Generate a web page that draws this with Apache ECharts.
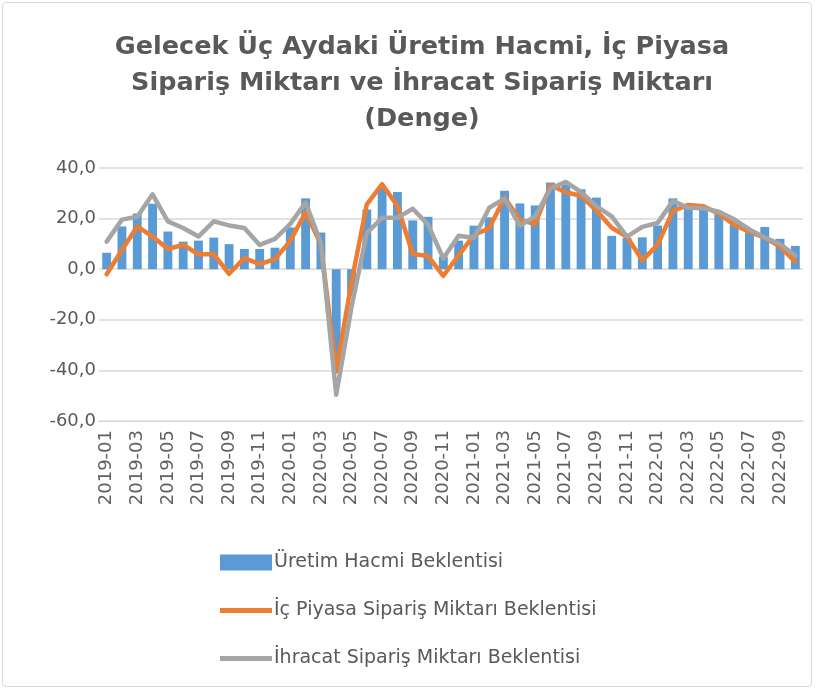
<!DOCTYPE html>
<html lang="tr">
<head>
    <meta charset="utf-8">
    <title>Gelecek Üç Aydaki Beklentiler</title>
    <script src="https://cdn.jsdelivr.net/npm/echarts@6/dist/echarts.min.js"></script>
    <style>
        html, body { margin: 0; padding: 0; background: #fff; }
        #frame {
            position: absolute; left: 2px; top: 2px; width: 810px; height: 685px;
            border: 1px solid #d9d9d9; border-radius: 4px; box-sizing: border-box;
        }
        #main { position: absolute; left: 0; top: 0; width: 816px; height: 691px; }
    </style>
</head>
<body>
<div id="frame"></div>
<div id="main"></div>
<script type="text/javascript">
    // aylar: 2019-01 .. 2022-10
    var months = [];
    for (var y = 2019; y <= 2022; y++) {
        for (var m = 1; m <= 12; m++) {
            if (y === 2022 && m > 10) break;
            months.push(y + '-' + (m < 10 ? '0' + m : m));
        }
    }

    var uretimHacmi = [6.5, 16.9, 22.0, 25.9, 14.9, 10.9, 11.3, 12.5, 9.9, 8.0, 8.0, 8.5,
        16.5, 28.0, 14.5, -38.0, -10.5, 23.6, 32.3, 30.5, 19.3, 20.7, 5.0, 11.3,
        17.2, 20.5, 31.0, 26.0, 25.2, 34.3, 33.5, 31.6, 28.3, 13.2, 12.4, 12.6,
        17.3, 28.0, 25.0, 24.0, 23.0, 17.5, 14.4, 16.7, 12.0, 9.2];

    var icPiyasa = [-2.0, 7.6, 16.9, 12.9, 8.0, 9.6, 5.9, 5.9, -1.8, 4.4, 2.0, 4.0,
        11.2, 22.5, 9.8, -40.4, -5.0, 25.6, 33.6, 25.0, 6.0, 5.2, -2.6, 5.5,
        13.5, 16.2, 28.3, 19.5, 17.8, 33.2, 30.4, 29.0, 23.2, 16.4, 12.8, 3.5,
        9.6, 23.0, 25.4, 24.9, 21.9, 17.6, 14.7, 12.5, 8.9, 2.9];

    var ihracat = [10.9, 19.6, 20.7, 29.6, 18.9, 16.3, 12.9, 18.9, 17.3, 16.3, 9.6, 12.0,
        17.9, 26.3, 10.3, -49.6, -15.0, 14.3, 20.3, 20.3, 23.9, 17.6, 4.3, 13.2,
        12.3, 24.3, 27.9, 17.2, 20.9, 31.9, 34.5, 30.5, 24.9, 20.9, 12.9, 16.7,
        18.3, 26.9, 24.3, 24.1, 22.7, 19.7, 15.7, 12.5, 9.9, 5.4];

    var seriesNames = ['Üretim Hacmi Beklentisi', 'İç Piyasa Sipariş Miktarı Beklentisi',
        'İhracat Sipariş Miktarı Beklentisi'];

    var textColor = '#595959';
    var fontFam = '"DejaVu Sans", sans-serif';

    var myChart = echarts.init(document.getElementById('main'));

    var option = {
        animation: false,
        textStyle: { fontFamily: fontFam },
        title: {
            text: 'Gelecek Üç Aydaki Üretim Hacmi, İç Piyasa\nSipariş Miktarı ve İhracat Sipariş Miktarı\n(Denge)',
            left: 417,
            textAlign: 'center',
            top: 24,
            textStyle: {
                fontFamily: fontFam,
                fontSize: 25.5,
                fontWeight: 'bold',
                color: textColor,
                lineHeight: 36
            }
        },
        legend: {
            orient: 'vertical',
            left: 215,
            top: 548,
            itemWidth: 52,
            itemHeight: 16,
            itemGap: 29,
            textStyle: { fontSize: 19, color: textColor, fontFamily: fontFam, padding: [0, 0, 0, -3] },
            data: [
                { name: seriesNames[0], icon: 'rect' },
                { name: seriesNames[1], icon: 'path://M0,6 H52 V11 H0 Z' },
                { name: seriesNames[2], icon: 'path://M0,6 H52 V11 H0 Z' }
            ]
        },
        grid: {
            left: 99,
            right: 13,
            top: 168,
            bottom: 270
        },
        xAxis: {
            type: 'category',
            data: months,
            axisLine: { onZero: false, show: true, lineStyle: { color: '#d9d9d9' } },
            axisTick: { show: false },
            axisLabel: {
                interval: 1,
                rotate: 90,
                fontSize: 18,
                color: '#606060',
                margin: 9
            }
        },
        yAxis: {
            type: 'value',
            min: -60,
            max: 40,
            interval: 20,
            axisLine: { show: false },
            axisTick: { show: false },
            splitLine: { lineStyle: { color: '#d9d9d9', width: 1.5 } },
            axisLabel: {
                fontSize: 18,
                color: textColor,
                margin: 3,
                formatter: function (v) { return v.toFixed(1).replace('.', ','); }
            }
        },
        series: [
            {
                name: seriesNames[0],
                type: 'bar',
                data: uretimHacmi,
                barCategoryGap: '42%',
                itemStyle: { color: '#5b9bd5' }
            },
            {
                name: seriesNames[1],
                type: 'line',
                data: icPiyasa,
                symbol: 'none',
                lineStyle: { color: '#ed7d31', width: 4.5, cap: 'round', join: 'round' },
                itemStyle: { color: '#ed7d31' }
            },
            {
                name: seriesNames[2],
                type: 'line',
                data: ihracat,
                symbol: 'none',
                lineStyle: { color: '#a5a5a5', width: 4.5, cap: 'round', join: 'round' },
                itemStyle: { color: '#a5a5a5' }
            }
        ]
    };

    myChart.setOption(option);
</script>
</body>
</html>
